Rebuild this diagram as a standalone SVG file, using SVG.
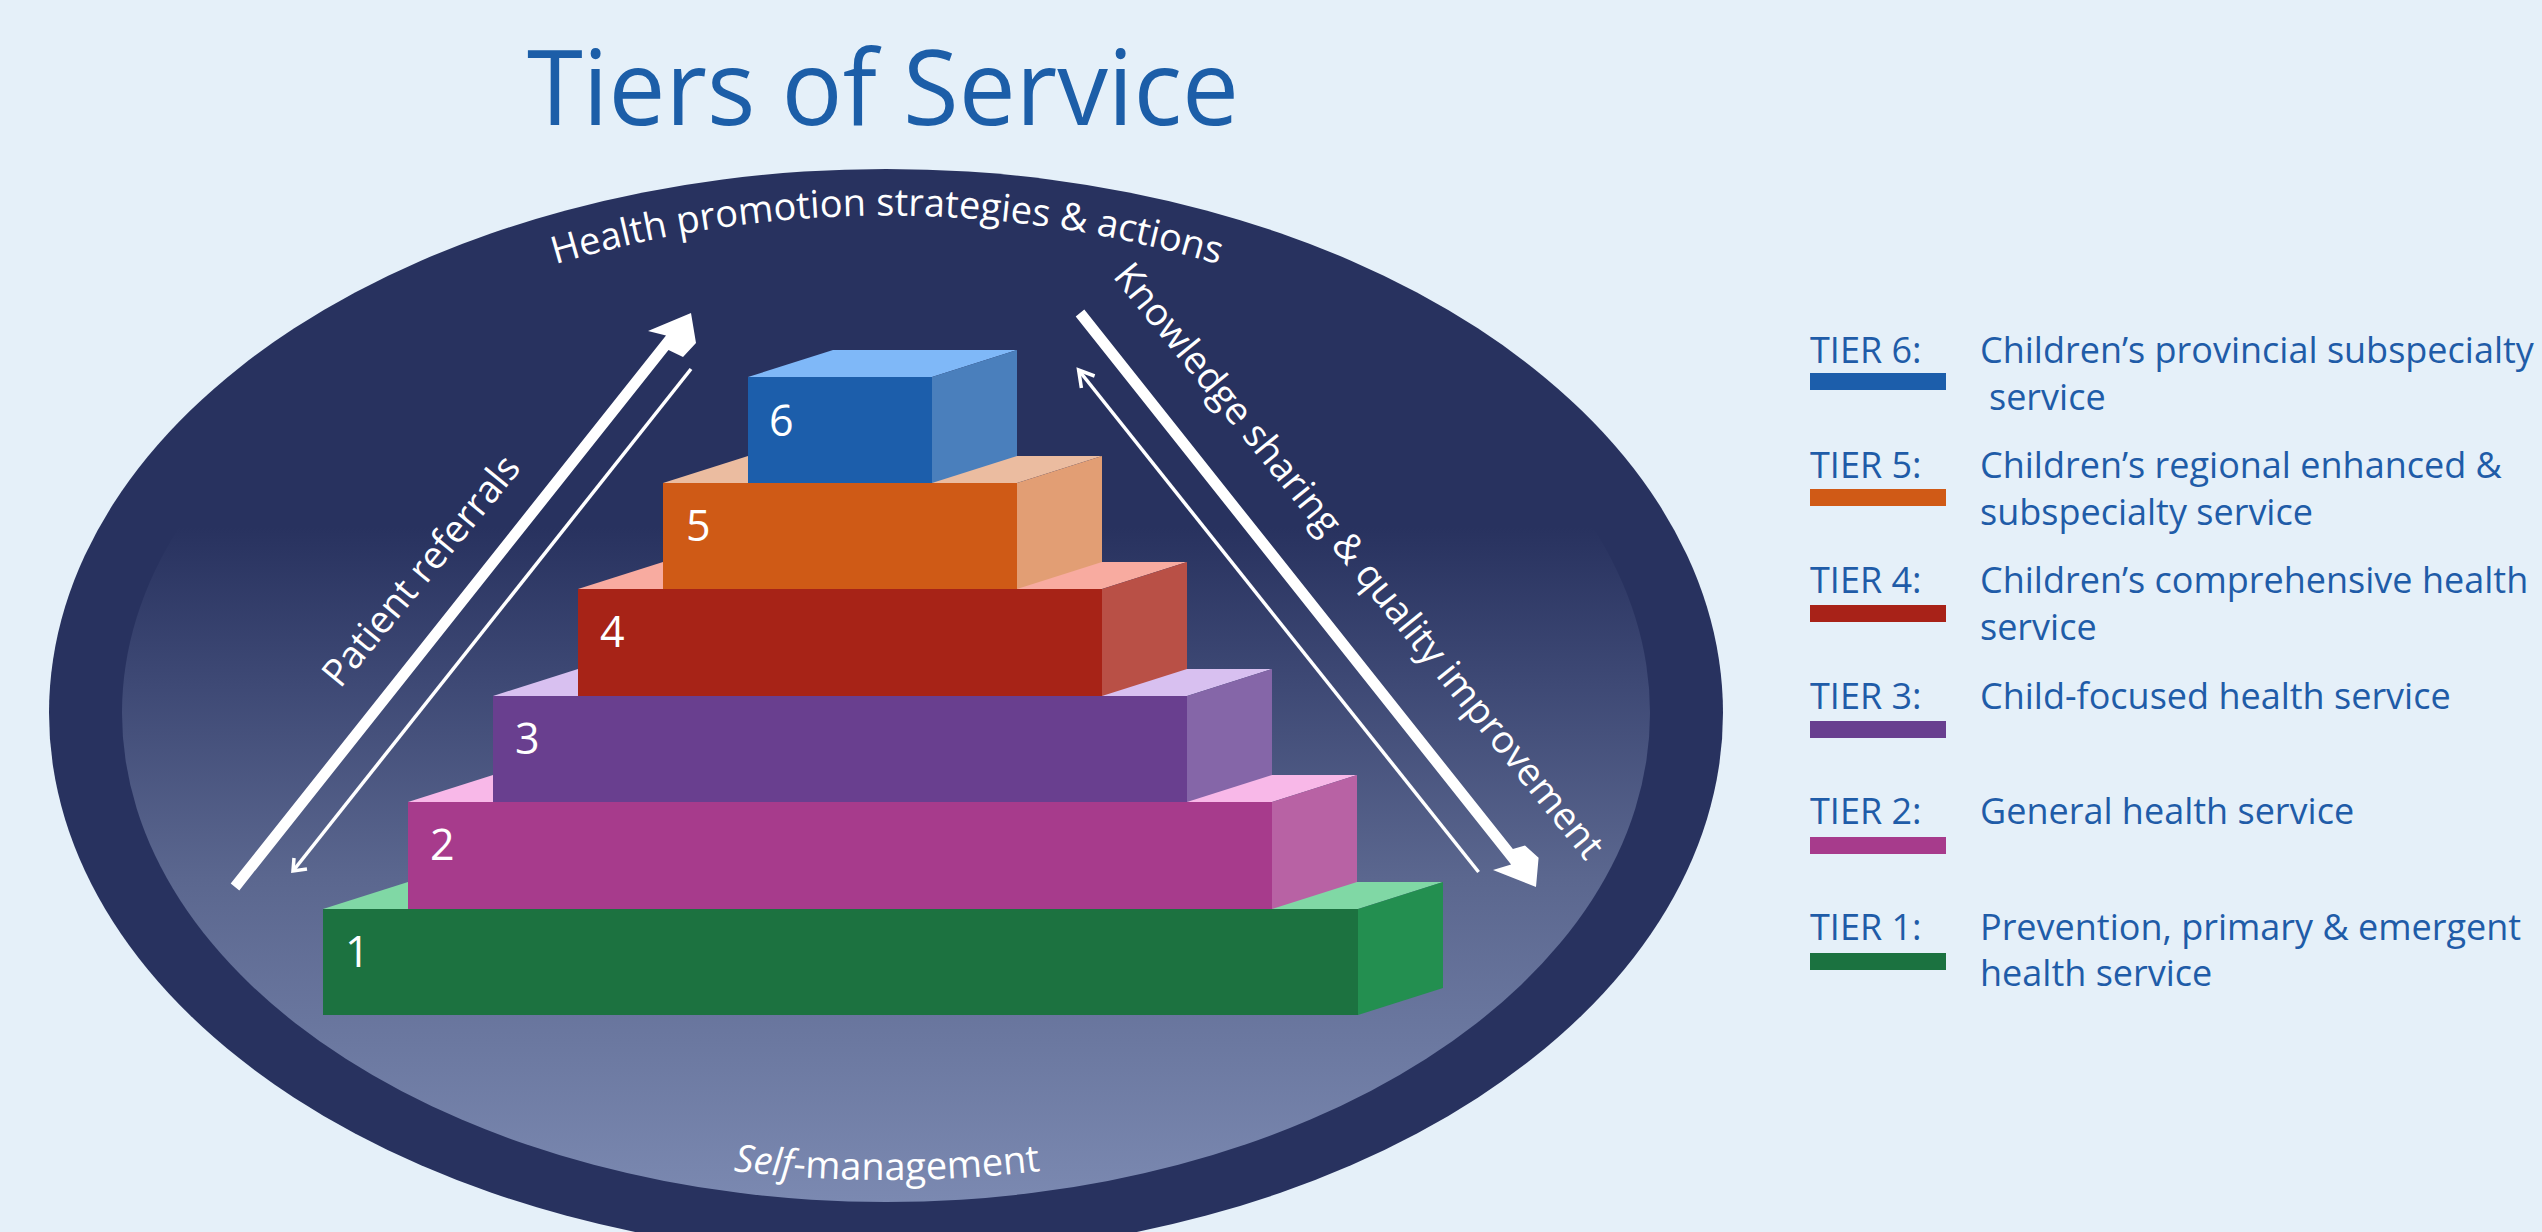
<svg xmlns="http://www.w3.org/2000/svg" width="2542" height="1232" viewBox="0 0 2542 1232">
<defs>
<linearGradient id="innerGrad" gradientUnits="userSpaceOnUse" x1="0" y1="224" x2="0" y2="1202">
<stop offset="0" stop-color="#28325f"/>
<stop offset="0.31" stop-color="#28325f"/>
<stop offset="0.47" stop-color="#3e4975"/>
<stop offset="0.67" stop-color="#5b678f"/>
<stop offset="1" stop-color="#7b89b1"/>
</linearGradient>
<path id="arcTop" d="M 480,290 A 1150 1150 0 0 1 1294,290"/>
<path id="arcBottom" d="M 587,1145 A 1301 1301 0 0 0 1187,1145"/>
</defs>
<style>
.title{font-family:"Open Sans","Liberation Sans",sans-serif;font-size:104px;fill:#1c5ea8}
.lbl{font-family:"Open Sans","Liberation Sans",sans-serif;font-size:38px;fill:#ffffff}
.num{font-family:"Open Sans","Liberation Sans",sans-serif;font-size:43px;fill:#ffffff}
.leg{font-family:"Open Sans","Liberation Sans",sans-serif;font-size:36px;fill:#1f5ca8}
.thin{fill:none;stroke:#ffffff;stroke-width:3.5}
</style>
<rect x="0" y="0" width="2542" height="1232" fill="#e5f0f9"/>
<text class="title" x="527" y="125" textLength="712" lengthAdjust="spacingAndGlyphs">Tiers of Service</text>

<g id="ellipse">
<ellipse cx="886" cy="713" rx="837" ry="544" fill="#28325f"/>
<ellipse cx="886" cy="713" rx="764" ry="489" fill="url(#innerGrad)"/>
</g>

<g id="circle-labels">
<text class="lbl" font-size="39"><textPath href="#arcTop" startOffset="50%" text-anchor="middle">Health promotion strategies &amp; actions</textPath></text>
<text class="lbl" font-size="40.5"><textPath href="#arcBottom" startOffset="50%" text-anchor="middle"><tspan font-style="italic">Self</tspan>-management</textPath></text>
<text class="lbl" font-size="37.5" text-anchor="middle" transform="translate(431,579) rotate(-50.5)">Patient referrals</text>
<text class="lbl" font-size="37" text-anchor="middle" transform="translate(1349,569) rotate(51)">Knowledge sharing &amp; quality improvement</text>
</g>

<g id="connectors">
<polygon fill="#ffffff" points="691,313 696,343 683,357 668.5,350 239.3,890.4 230.7,883.6 666,335.5 648,331"/>
<line class="thin" x1="691" y1="369" x2="293" y2="871"/>
<polyline class="thin" points="294,858 293,871 307,869"/>
<polygon fill="#ffffff" points="1536,887 1493,870 1511.1,864.5 1075.7,316.4 1084.3,309.6 1512.9,849.1 1525,845.5 1538.6,857.8"/>
<line class="thin" x1="1478.6" y1="872" x2="1078.6" y2="370"/>
<polyline class="thin" points="1094.6,376 1078.6,370 1081.4,388"/>
</g>

<g id="tier1">
<polygon fill="#80d8a5" points="323,909 408,882 1443,882 1358,909"/>
<polygon fill="#238f50" points="1358,909 1443,882 1443,988 1358,1015"/>
<rect fill="#1c7240" x="323" y="909" width="1035" height="106"/>
<text class="num" x="345" y="967">1</text>
</g>
<g id="tier2">
<polygon fill="#f8b8e8" points="408,802 493,775 1357,775 1272,802"/>
<polygon fill="#b862a4" points="1272,802 1357,775 1357,882 1272,909"/>
<rect fill="#a73b8c" x="408" y="802" width="864" height="107"/>
<text class="num" x="430" y="860">2</text>
</g>
<g id="tier3">
<polygon fill="#d8c0f0" points="493,696 578,669 1272,669 1187,696"/>
<polygon fill="#8566a8" points="1187,696 1272,669 1272,775 1187,802"/>
<rect fill="#693f8f" x="493" y="696" width="694" height="106"/>
<text class="num" x="515" y="754">3</text>
</g>
<g id="tier4">
<polygon fill="#f8aba0" points="578,589 663,562 1187,562 1102,589"/>
<polygon fill="#b95046" points="1102,589 1187,562 1187,669 1102,696"/>
<rect fill="#a72317" x="578" y="589" width="524" height="107"/>
<text class="num" x="600" y="647">4</text>
</g>
<g id="tier5">
<polygon fill="#ebbca0" points="663,483 748,456 1102,456 1017,483"/>
<polygon fill="#e29e74" points="1017,483 1102,456 1102,562 1017,589"/>
<rect fill="#cf5a16" x="663" y="483" width="354" height="106"/>
<text class="num" x="686" y="541">5</text>
</g>
<g id="tier6">
<polygon fill="#7fb8f8" points="748,377 833,350 1017,350 932,377"/>
<polygon fill="#4a7fbc" points="932,377 1017,350 1017,456 932,483"/>
<rect fill="#1c5eab" x="748" y="377" width="184" height="106"/>
<text class="num" x="769" y="436">6</text>
</g>

<g id="legend-tier6">
<text class="leg" x="1810" y="363">TIER 6:</text>
<rect x="1810" y="373" width="136" height="17" fill="#1c5eab"/>
<text class="leg" x="1980" y="363">Children’s provincial subspecialty</text>
<text class="leg" x="1989" y="410">service</text>
</g>
<g id="legend-tier5">
<text class="leg" x="1810" y="478">TIER 5:</text>
<rect x="1810" y="489" width="136" height="17" fill="#d05a16"/>
<text class="leg" x="1980" y="478">Children’s regional enhanced &amp;</text>
<text class="leg" x="1980" y="525">subspecialty service</text>
</g>
<g id="legend-tier4">
<text class="leg" x="1810" y="593">TIER 4:</text>
<rect x="1810" y="605" width="136" height="17" fill="#a82218"/>
<text class="leg" x="1980" y="593">Children’s comprehensive health</text>
<text class="leg" x="1980" y="640">service</text>
</g>
<g id="legend-tier3">
<text class="leg" x="1810" y="709">TIER 3:</text>
<rect x="1810" y="721" width="136" height="17" fill="#683f8f"/>
<text class="leg" x="1980" y="709">Child-focused health service</text>
</g>
<g id="legend-tier2">
<text class="leg" x="1810" y="824">TIER 2:</text>
<rect x="1810" y="837" width="136" height="17" fill="#a73b8c"/>
<text class="leg" x="1980" y="824">General health service</text>
</g>
<g id="legend-tier1">
<text class="leg" x="1810" y="940">TIER 1:</text>
<rect x="1810" y="953" width="136" height="17" fill="#1b7240"/>
<text class="leg" x="1980" y="940">Prevention, primary &amp; emergent</text>
<text class="leg" x="1980" y="986">health service</text>
</g>
</svg>
